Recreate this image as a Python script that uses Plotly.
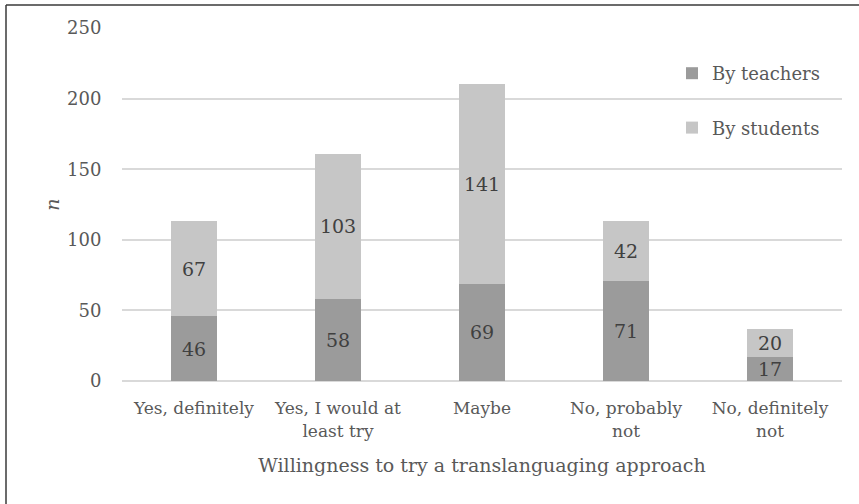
import plotly.graph_objects as go

categories = ["Yes, definitely", "Yes, I would at<br>least try", "Maybe",
              "No, probably<br>not", "No, definitely<br>not"]
by_teachers = [46, 58, 69, 71, 17]
by_students = [67, 103, 141, 42, 20]
y_ticks = [0, 50, 100, 150, 200, 250]

FONT = "DejaVu Serif"
GREY_TEXT = "#595959"
W, H = 859, 504
L, R, T, B = 122, 17, 28, 123
pw, ph = W - L - R, H - T - B

fig = go.Figure()
for vals, name, grp, col in [(by_teachers, "By teachers", "t", "#9b9b9b"),
                             (by_students, "By students", "s", "#c6c6c6")]:
    fig.add_trace(go.Bar(
        x=categories, y=vals, name=name, legendgroup=grp,
        marker=dict(color=col, line=dict(width=0)),
        text=vals, textposition="inside", insidetextanchor="middle", textangle=0,
        textfont=dict(family=FONT, size=19, color="#404040"),
        constraintext="none",
    ))

# frame lines along the top and left edges of the figure
fx = (6 - L) / pw
fy = (H - B - 5) / ph
fig.add_shape(type="line", xref="paper", yref="paper", x0=fx, x1=2, y0=fy, y1=fy,
              line=dict(color="#3a3a3a", width=1.5))
fig.add_shape(type="line", xref="paper", yref="paper", x0=fx, x1=fx, y0=-2, y1=fy,
              line=dict(color="#3a3a3a", width=1.5))

fig.update_layout(
    width=W, height=H,
    margin=dict(l=L, r=R, t=T, b=B),
    barmode="stack", bargap=0.68,
    plot_bgcolor="white", paper_bgcolor="white",
    font=dict(family=FONT, size=18, color=GREY_TEXT),
    showlegend=True,
    legend=dict(x=(672 - L) / pw, y=(H - B - 55) / ph, xanchor="left", yanchor="top",
                traceorder="grouped", tracegroupgap=28,
                font=dict(family=FONT, size=18, color=GREY_TEXT),
                bgcolor="rgba(0,0,0,0)", itemwidth=30),
    xaxis=dict(
        title=dict(text="Willingness to try a translanguaging approach",
                   font=dict(family=FONT, size=19, color=GREY_TEXT), standoff=19),
        tickfont=dict(family=FONT, size=17, color=GREY_TEXT),
        showline=False, showgrid=False,
        ticks="outside", ticklen=12, tickcolor="rgba(0,0,0,0)",
    ),
    yaxis=dict(
        title=dict(text="<i>n</i>", font=dict(family=FONT, size=19, color=GREY_TEXT),
                   standoff=2),
        range=[0, 250], tickvals=y_ticks,
        tickfont=dict(family=FONT, size=18, color=GREY_TEXT),
        showgrid=True, gridcolor="#d9d9d9", gridwidth=1.5,
        zeroline=True, zerolinecolor="#d9d9d9", zerolinewidth=1.5,
        ticks="outside", ticklen=16, tickcolor="rgba(0,0,0,0)",
        showline=False,
    ),
)

fig.write_html("out.html")
